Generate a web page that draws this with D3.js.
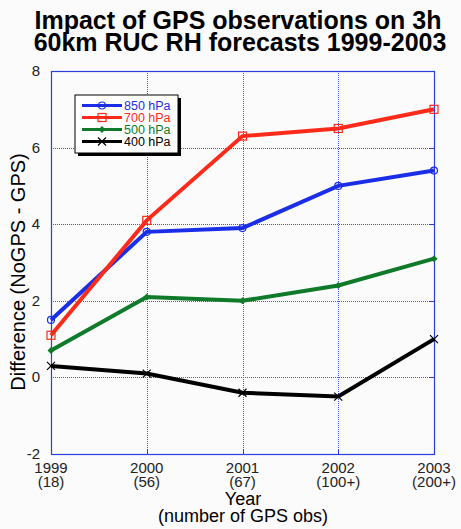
<!DOCTYPE html>
<html>
<head>
<meta charset="utf-8">
<script src="https://cdn.jsdelivr.net/npm/d3@7"></script>
<style>
body { margin: 0; background: #fbfbfb; }
text { font-family: "Liberation Sans", Arial, sans-serif; }
</style>
</head>
<body>
<div class="chart"></div>
<script>
const years = [1999, 2000, 2001, 2002, 2003];
const obsCounts = ["(18)", "(56)", "(67)", "(100+)", "(200+)"];
const yTicks = [-2, 0, 2, 4, 6, 8];

const seriesNames = ["850 hPa", "700 hPa", "500 hPa", "400 hPa"];
const v850 = [1.5, 3.8, 3.9, 5.0, 5.4];
const v700 = [1.1, 4.1, 6.3, 6.5, 7.0];
const v500 = [0.7, 2.1, 2.0, 2.4, 3.1];
const v400 = [0.3, 0.1, -0.4, -0.5, 1.0];

const width = 461, height = 529;
const margin = {left: 51, right: 27, top: 71, bottom: 75};

const svg = d3.select(".chart").append("svg")
    .attr("width", width)
    .attr("height", height);

svg.append("rect").attr("width", width).attr("height", height).attr("fill", "#fbfbfb");

const x = d3.scalePoint()
    .domain(years)
    .range([margin.left, width - margin.right]);
const y = d3.scaleLinear()
    .domain([-2, 8])
    .range([height - margin.bottom, margin.top]);

const axisBlue = "#2b3fe0";
const gridBlue = "#3a55f0";

// grid (dotted)
svg.append("g").selectAll("line")
    .data(yTicks.slice(1, -1))
    .join("line")
    .attr("x1", margin.left).attr("x2", width - margin.right)
    .attr("y1", d => Math.round(y(d)) + 0.5).attr("y2", d => Math.round(y(d)) + 0.5)
    .attr("stroke", gridBlue).attr("stroke-width", 1)
    .attr("stroke-dasharray", "1,1");
svg.append("g").selectAll("line")
    .data(years.slice(1, -1))
    .join("line")
    .attr("x1", d => Math.round(x(d)) + 0.5).attr("x2", d => Math.round(x(d)) + 0.5)
    .attr("y1", margin.top).attr("y2", height - margin.bottom)
    .attr("stroke", gridBlue).attr("stroke-width", 1)
    .attr("stroke-dasharray", "1,1");

// short solid ticks inside frame
svg.append("g").selectAll("line")
    .data(yTicks)
    .join("line")
    .attr("x1", width - margin.right - 5).attr("x2", width - margin.right)
    .attr("y1", d => Math.round(y(d)) + 0.5).attr("y2", d => Math.round(y(d)) + 0.5)
    .attr("stroke", axisBlue);
svg.append("g").selectAll("line")
    .data(years)
    .join("line")
    .attr("x1", d => Math.round(x(d)) + 0.5).attr("x2", d => Math.round(x(d)) + 0.5)
    .attr("y1", height - margin.bottom - 5).attr("y2", height - margin.bottom)
    .attr("stroke", axisBlue);

// frame
svg.append("rect")
    .attr("x", margin.left + 0.5).attr("y", margin.top + 0.5)
    .attr("width", width - margin.left - margin.right)
    .attr("height", height - margin.top - margin.bottom)
    .attr("fill", "none").attr("stroke", axisBlue).attr("stroke-width", 1.2);

// y tick labels
svg.append("g").selectAll("text")
    .data(yTicks)
    .join("text")
    .attr("x", margin.left - 11).attr("y", d => y(d) + 5)
    .attr("text-anchor", "end")
    .attr("font-size", 15).attr("fill", "#222")
    .text(d => d);

// x tick labels
const xl = svg.append("g").selectAll("text")
    .data(years)
    .join("text")
    .attr("text-anchor", "middle")
    .attr("font-size", 15).attr("fill", "#222");
xl.append("tspan").attr("x", d => x(d)).attr("y", 473).text(d => d);
xl.append("tspan").attr("x", d => x(d)).attr("y", 487).text((d, i) => obsCounts[i]);

// axis titles
svg.append("text")
    .attr("x", 243).attr("y", 505)
    .attr("text-anchor", "middle").attr("font-size", 18)
    .text("Year");
svg.append("text")
    .attr("x", 243).attr("y", 522)
    .attr("text-anchor", "middle").attr("font-size", 18)
    .text("(number of GPS obs)");
svg.append("text")
    .attr("transform", "translate(25,272) rotate(-90)")
    .attr("text-anchor", "middle").attr("font-size", 20)
    .text("Difference (NoGPS - GPS)");

// title
svg.append("text")
    .attr("x", 238).attr("y", 29)
    .attr("text-anchor", "middle").attr("font-size", 25).attr("font-weight", "bold")
    .text("Impact of GPS observations on 3h");
svg.append("text")
    .attr("x", 240).attr("y", 51)
    .attr("text-anchor", "middle").attr("font-size", 25).attr("font-weight", "bold")
    .text("60km RUC RH forecasts 1999-2003");

// series
const series = [
    {name: seriesNames[0], values: v850, color: "#1a2ee8", marker: "circle"},
    {name: seriesNames[1], values: v700, color: "#ff2a1a", marker: "square"},
    {name: seriesNames[2], values: v500, color: "#0e7a2a", marker: "diamond"},
    {name: seriesNames[3], values: v400, color: "#000000", marker: "cross"}
];

const line = d3.line()
    .x((d, i) => x(years[i]))
    .y(d => y(d));

function drawMarker(g, type, cx, cy, color) {
    if (type === "circle") {
        g.append("circle").attr("cx", cx).attr("cy", cy).attr("r", 3.5)
            .attr("fill", "none").attr("stroke", color).attr("stroke-width", 1.2);
    } else if (type === "square") {
        g.append("rect").attr("x", cx - 4).attr("y", cy - 4).attr("width", 8).attr("height", 8)
            .attr("fill", "none").attr("stroke", color).attr("stroke-width", 1.2);
    } else if (type === "diamond") {
        g.append("path").attr("d", `M${cx},${cy - 3.5}L${cx + 3.5},${cy}L${cx},${cy + 3.5}L${cx - 3.5},${cy}Z`)
            .attr("fill", color);
    } else {
        g.append("path").attr("d", `M${cx - 4},${cy - 4}L${cx + 4},${cy + 4}M${cx - 4},${cy + 4}L${cx + 4},${cy - 4}`)
            .attr("stroke", color).attr("stroke-width", 1.2);
    }
}

// draw back to front: 400, 500, 850, 700
[3, 2, 0, 1].forEach(k => {
    const s = series[k];
    const g = svg.append("g");
    g.append("path")
        .attr("d", line(s.values))
        .attr("fill", "none")
        .attr("stroke", s.color)
        .attr("stroke-width", 4);
    s.values.forEach((v, i) => drawMarker(g, s.marker, x(years[i]), y(v), s.color));
});

// legend
const lg = svg.append("g");
lg.append("rect").attr("x", 78).attr("y", 98).attr("width", 103).attr("height", 58).attr("fill", "#000");
lg.append("rect").attr("x", 75).attr("y", 95).attr("width", 103).attr("height", 58)
    .attr("fill", "#fff").attr("stroke", "#000").attr("stroke-width", 1);
series.forEach((s, i) => {
    const ly = 105.5 + i * 12;
    lg.append("line").attr("x1", 82).attr("x2", 122).attr("y1", ly).attr("y2", ly)
        .attr("stroke", s.color).attr("stroke-width", 3);
    drawMarker(lg, s.marker, 102, ly, s.color);
    lg.append("text").attr("x", 124).attr("y", ly + 4.5)
        .attr("font-size", 12.5).attr("fill", s.color)
        .text(s.name);
});
</script>
</body>
</html>
